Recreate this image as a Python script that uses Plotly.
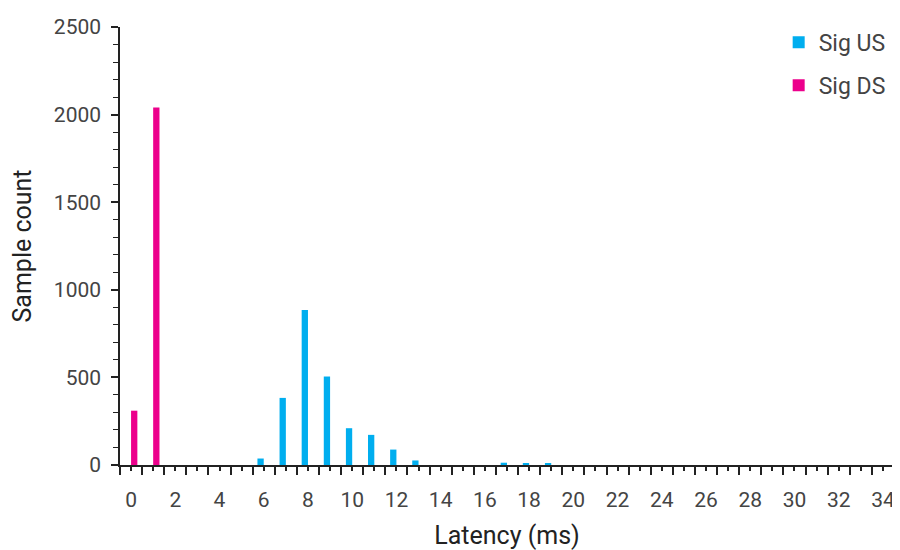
import plotly.graph_objects as go

categories = list(range(0, 35))
sig_us = [0, 0, 0, 0, 0, 0, 37, 383, 885, 505, 210, 172, 88, 26, 0, 0, 0, 13, 11, 11] + [0] * 15
sig_ds = [310, 2040] + [0] * 33
tick_labels = [str(c) if c % 2 == 0 else "" for c in categories]
y_ticks = [0, 500, 1000, 1500, 2000, 2500]

FONT = "Roboto"
fig = go.Figure()
fig.add_trace(go.Bar(x=categories, y=sig_us, name="Sig US", marker_color="#00aeef",
                     marker_line_width=0, legendgroup="us"))
fig.add_trace(go.Bar(x=categories, y=sig_ds, name="Sig DS", marker_color="#ec008c",
                     marker_line_width=0, legendgroup="ds"))

# the page body has an 8px margin, so the figure is sized to end at the window edge
fig.update_layout(
    width=892, height=542,
    margin=dict(l=112, r=6, t=19, b=85, autoexpand=False),
    paper_bgcolor="white", plot_bgcolor="white",
    barmode="group", bargap=0.43, bargroupgap=0,
    font=dict(family=FONT, size=21, color="#444"),
    legend=dict(x=0.851, xanchor="left", y=1.014, yanchor="top", traceorder="grouped",
                tracegroupgap=10, font=dict(size=23, color="#444"),
                bgcolor="rgba(0,0,0,0)"),
    xaxis=dict(
        range=[-0.5, 34.5], showgrid=False, zeroline=False, automargin=False,
        showline=True, linecolor="#222", linewidth=1.5,
        tickmode="array", tickvals=categories, ticktext=tick_labels,
        ticks="outside", ticklen=4, tickcolor="#222", tickwidth=1.5,
        tickfont=dict(size=21, color="#444"), ticklabelstandoff=11,
        minor=dict(tickmode="array", tickvals=[c - 0.5 for c in categories] + [34.5],
                   ticks="outside", ticklen=8, tickcolor="#222", tickwidth=1.5),
        title=dict(text="Latency (ms)", font=dict(size=25, color="#222"), standoff=18),
    ),
    yaxis=dict(
        range=[0, 2500], showgrid=False, zeroline=False, automargin=False,
        showline=True, linecolor="#222", linewidth=1.5,
        tickmode="array", tickvals=y_ticks,
        ticks="outside", ticklen=7, tickcolor="#222", tickwidth=1.5,
        tickfont=dict(size=21, color="#444"), ticklabelstandoff=6,
        minor=dict(dtick=100, ticks="outside", ticklen=5, tickcolor="#222", tickwidth=1.2),
        title=dict(text="Sample count", font=dict(size=25, color="#222"), standoff=16),
    ),
    yaxis2=dict(
        range=[0, 2500], overlaying="y", anchor="x", side="left", automargin=False,
        showgrid=False, zeroline=False, showline=False, showticklabels=False,
        tickmode="array", tickvals=y_ticks, ticks="inside", ticklen=7,
        tickcolor="#222", tickwidth=1.5,
    ),
)

fig.write_html("out.html")
